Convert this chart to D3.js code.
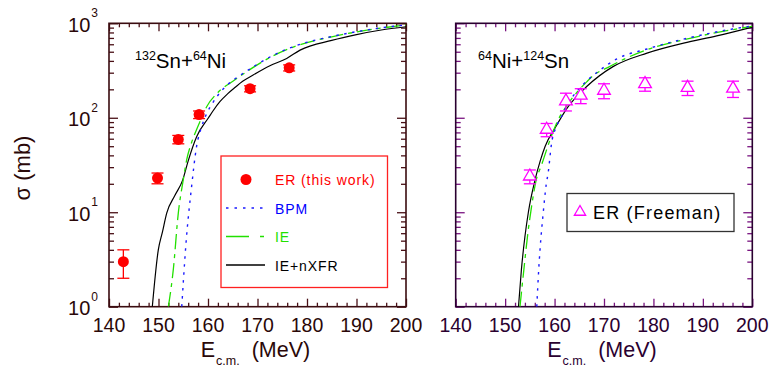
<!DOCTYPE html>
<html><head><meta charset="utf-8">
<script src="https://cdn.jsdelivr.net/npm/d3@7"></script>
<style>
body{margin:0;background:#fff}
svg{display:block}
text{font-family:"Liberation Sans",Arial,Helvetica,sans-serif}
</style>
</head><body>
<svg id="chart" width="769" height="369"></svg>
<script>
// Axis ticks
const xMajor = [140, 150, 160, 170, 180, 190, 200];
const yDecades = [1, 10, 100, 1000];
const yExponents = ["0", "1", "2", "3"];

// 132Sn+64Ni evaporation residues (this work)
const snErE = [142.9, 149.8, 154.0, 158.2, 168.5, 176.4];
const snErSigma = [3.0, 23, 59, 108, 203, 338];
const snErErr = [1.0, 3, 6, 10, 15, 25];

// 132Sn+64Ni calculations [E, sigma]
const bpmSn = [[154.7,1],[155.5,4.3],[156.7,19],[157.7,50],[158.7,80],[159.7,110],[161,145],[163,200],[165.1,250],[167.1,295],[172.7,445],[177.6,575],[185,725],[190,815],[195,895],[200,960]];
const ieSn = [[152.0,1],[153.0,2.5],[154.0,9.8],[155.0,22],[155.7,36],[156.7,55],[157.7,75],[158.7,100],[159.7,130],[162,185],[165.1,245],[167.1,290],[172.7,440],[177.6,570],[185,720],[190,810],[195,890],[200,960]];
const xfrSn = [[148.75,1],[149.96,4],[150.8,6.2],[151.66,9.8],[153.3,15],[154.9,22],[156,35],[157.7,63],[160.1,100],[161,118],[162.4,148],[164,180],[165.5,210],[167,243],[169.2,285],[172.5,355],[175.9,425],[178.6,520],[185,660],[190,760],[195,850],[200,920]];

// 64Ni+124Sn evaporation residues (Freeman)
const niErE = [155.0, 158.4, 162.3, 165.3, 170.0, 178.3, 186.9, 196.1];
const niErSigma = [24, 75, 150, 172, 194, 228, 208, 204];
const niErErr = [4, 12, 32, 31, 35, 37, 36, 40];

// 64Ni+124Sn calculations [E, sigma]
const bpmNi = [[156.4,1],[156.8,2.5],[157.1,4.3],[157.7,9.8],[158.3,19.5],[158.7,26],[159.4,54],[160.4,81],[161.5,105],[162.5,135],[164.5,190],[166.5,245],[168.5,300],[172.6,420],[178.7,535],[186.1,680],[191.5,785],[196,870],[200,935]];
const ieNi = [[153,1],[153.8,2.5],[154.6,6],[155.4,12],[156.2,21],[157.4,32],[158.4,46],[159.4,65],[160.5,90],[162.5,135],[164.5,185],[166.5,240],[168,285],[170.5,335],[174.6,430],[178.7,525],[186.1,670],[193.5,810],[200,930]];
const xfrNi = [[152.7,1],[153.3,2.5],[154.0,5.5],[154.7,10],[156.05,22],[157.1,35],[158.1,50],[160.1,78],[162.5,126],[166.5,214],[171.9,350],[178.7,484],[186.1,617],[192.8,735],[200,912]];

const svg = d3.select("#chart");
const yTop = 23.3, yBot = 306.7;
const y = d3.scaleLog().domain([1, 1000]).range([yBot, yTop]);

const yMinor = [];
[1, 10, 100].forEach(d => { for (let k = 2; k <= 9; k++) yMinor.push(d * k); });
const xMinor = d3.range(140, 201, 2).filter(v => v % 10 !== 0);

const BLUE = "#1a1aff", GREEN = "#22e000", BLACK = "#000";

function panel(id, x0, x1, axisCol, tickCol, labelCol, showYLabels) {
  const x = d3.scaleLinear().domain([140, 200]).range([x0, x1]);
  const g = svg.append("g");
  g.append("clipPath").attr("id", "clip" + id)
    .append("rect").attr("x", x0).attr("y", yTop).attr("width", x1 - x0).attr("height", yBot - yTop);

  // ticks on all four sides, pointing inward
  const tickSets = [
    [d3.axisBottom(x).tickValues(xMajor).tickSize(-8), `translate(0,${yBot})`],
    [d3.axisBottom(x).tickValues(xMinor).tickSize(-4), `translate(0,${yBot})`],
    [d3.axisTop(x).tickValues(xMajor).tickSize(-8), `translate(0,${yTop})`],
    [d3.axisTop(x).tickValues(xMinor).tickSize(-4), `translate(0,${yTop})`],
    [d3.axisLeft(y).tickValues(yDecades).tickSize(-9), `translate(${x0},0)`],
    [d3.axisLeft(y).tickValues(yMinor).tickSize(-5), `translate(${x0},0)`],
    [d3.axisRight(y).tickValues(yDecades).tickSize(-9), `translate(${x1},0)`],
    [d3.axisRight(y).tickValues(yMinor).tickSize(-5), `translate(${x1},0)`]
  ];
  tickSets.forEach(([ax, tr]) => {
    const a = g.append("g").attr("transform", tr)
      .call(ax.tickFormat("").tickSizeOuter(0));
    a.select(".domain").remove();
    a.selectAll("line").attr("stroke", tickCol).attr("stroke-width", 1.3);
  });

  // frame
  g.append("rect").attr("x", x0).attr("y", yTop).attr("width", x1 - x0).attr("height", yBot - yTop)
    .attr("fill", "none").attr("stroke", axisCol).attr("stroke-width", 1.6);

  // x tick labels
  g.selectAll(".xl").data(xMajor).join("text")
    .attr("x", d => x(d)).attr("y", 332).attr("text-anchor", "middle")
    .attr("font-size", 19.5).attr("fill", labelCol).text(d => d);

  // y tick labels
  if (showYLabels) {
    yDecades.forEach((d, i) => {
      const t = g.append("text").attr("x", 98).attr("y", y(d) + 8.5)
        .attr("text-anchor", "end").attr("fill", labelCol).attr("font-size", 20);
      t.append("tspan").text("10");
      t.append("tspan").attr("font-size", 12).attr("dy", -14.5).attr("dx", 1).text(yExponents[i]);
    });
  }

  // x axis title
  const xt = g.append("text").attr("x", (x0 + x1) / 2 - 2).attr("y", 357)
    .attr("text-anchor", "middle").attr("fill", labelCol).attr("font-size", 21.5);
  xt.append("tspan").text("E");
  xt.append("tspan").attr("font-size", 12.5).attr("dy", 8).attr("dx", 1).text("c.m.");
  xt.append("tspan").attr("dy", -8).attr("dx", 12).text("(MeV)");

  return { g, x };
}

function curves(p, id, bpm, ie, xfr) {
  const line = d3.line().x(d => p.x(d[0])).y(d => y(d[1])).curve(d3.curveMonotoneX);
  const cg = p.g.append("g").attr("clip-path", `url(#clip${id})`);
  cg.append("path").attr("d", line(xfr)).attr("fill", "none").attr("stroke", BLACK).attr("stroke-width", 1.2);
  cg.append("path").attr("d", line(ie)).attr("fill", "none").attr("stroke", GREEN).attr("stroke-width", 1.3)
    .attr("stroke-dasharray", "15,5,4,5");
  cg.append("path").attr("d", line(bpm)).attr("fill", "none").attr("stroke", BLUE).attr("stroke-width", 1.4)
    .attr("stroke-dasharray", "2.5,5.5");
}

// ---- Left panel: 132Sn+64Ni ----
const L = panel("L", 109, 406, "#3a0c10", "#4a1016", "#2a0808", true);
curves(L, "L", bpmSn, ieSn, xfrSn);

const RED = "#ff0000";
snErE.forEach((e, i) => {
  const cx = L.x(e), s = snErSigma[i], er = snErErr[i];
  const y1 = y(s + er), y2 = y(s - er);
  L.g.append("line").attr("x1", cx).attr("x2", cx).attr("y1", y1).attr("y2", y2).attr("stroke", RED).attr("stroke-width", 1.3);
  [y1, y2].forEach(yy => L.g.append("line").attr("x1", cx - 6).attr("x2", cx + 6).attr("y1", yy).attr("y2", yy)
    .attr("stroke", RED).attr("stroke-width", 1.3));
  L.g.append("circle").attr("cx", cx).attr("cy", y(s)).attr("r", 5.5).attr("fill", RED);
});

// title
const t1 = L.g.append("text").attr("x", 135).attr("y", 68).attr("font-size", 20.5).attr("fill", "#000");
t1.append("tspan").attr("font-size", 12.5).attr("dy", -8).text("132");
t1.append("tspan").attr("dy", 8).text("Sn+");
t1.append("tspan").attr("font-size", 12.5).attr("dy", -8).text("64");
t1.append("tspan").attr("dy", 8).text("Ni");

// legend
const lg = L.g.append("g");
lg.append("rect").attr("x", 221).attr("y", 156).attr("width", 166.5).attr("height", 131.5)
  .attr("fill", "#fff").attr("stroke", "#ff2020").attr("stroke-width", 1.3);
const legFont = "DejaVu Sans, Verdana, sans-serif";
lg.append("circle").attr("cx", 246).attr("cy", 179.5).attr("r", 5.5).attr("fill", RED);
const legItems = [
  { label: "ER (this work)", col: RED, y: 185 },
  { label: "BPM", col: "#0000ff", y: 213.5, dash: "2.5,6", stroke: BLUE },
  { label: "IE", col: "#22e000", y: 242, dash: "23,11,4,30", stroke: GREEN },
  { label: "IE+nXFR", col: "#000", y: 270.5, dash: null, stroke: BLACK }
];
legItems.forEach((d, i) => {
  if (i > 0) {
    lg.append("line").attr("x1", 226).attr("x2", 265).attr("y1", d.y - 5.5).attr("y2", d.y - 5.5)
      .attr("stroke", d.stroke).attr("stroke-width", 1.3).attr("stroke-dasharray", d.dash);
  }
  lg.append("text").attr("x", 275).attr("y", d.y).attr("font-size", 14)
    .attr("letter-spacing", 0.9)
    .attr("font-family", legFont).attr("fill", d.col).text(d.label);
});

// y axis title
svg.append("text").attr("transform", "translate(30,168) rotate(-90)").attr("text-anchor", "middle")
  .attr("font-size", 22).attr("fill", "#2a0808").text("\u03c3 (mb)");

// ---- Right panel: 64Ni+124Sn ----
const R = panel("R", 455.7, 752.3, "#2a0030", "#7a1480", "#2a0030", false);
curves(R, "R", bpmNi, ieNi, xfrNi);

const MAG = "#ff00ff";
const tri = d3.symbol().type(d3.symbolTriangle).size(70);
niErE.forEach((e, i) => {
  const cx = R.x(e), s = niErSigma[i], er = niErErr[i];
  const y1 = y(s + er), y2 = y(s - er), cy = y(s);
  R.g.append("line").attr("x1", cx).attr("x2", cx).attr("y1", y1).attr("y2", y2).attr("stroke", MAG).attr("stroke-width", 1.3);
  [y1, y2].forEach(yy => R.g.append("line").attr("x1", cx - 6).attr("x2", cx + 6).attr("y1", yy).attr("y2", yy)
    .attr("stroke", MAG).attr("stroke-width", 1.3));
  R.g.append("path").attr("d", tri()).attr("transform", `translate(${cx},${cy})`)
    .attr("fill", "#fff").attr("stroke", MAG).attr("stroke-width", 1.3);
});

const t2 = R.g.append("text").attr("x", 478).attr("y", 68).attr("font-size", 20.5).attr("fill", "#000");
t2.append("tspan").attr("font-size", 12.5).attr("dy", -8).text("64");
t2.append("tspan").attr("dy", 8).text("Ni+");
t2.append("tspan").attr("font-size", 12.5).attr("dy", -8).text("124");
t2.append("tspan").attr("dy", 8).text("Sn");

const rg = R.g.append("g");
rg.append("rect").attr("x", 567).attr("y", 193.5).attr("width", 167).attr("height", 38)
  .attr("fill", "#fff").attr("stroke", "#333").attr("stroke-width", 1.3);
rg.append("path").attr("d", d3.symbol().type(d3.symbolTriangle).size(55)()).attr("transform", "translate(580,212)")
  .attr("fill", "none").attr("stroke", MAG).attr("stroke-width", 1.3);
rg.append("text").attr("x", 593).attr("y", 218.5).attr("font-size", 18).attr("letter-spacing", 1.2)
  .attr("fill", "#000").text("ER (Freeman)");
</script>
</body></html>
